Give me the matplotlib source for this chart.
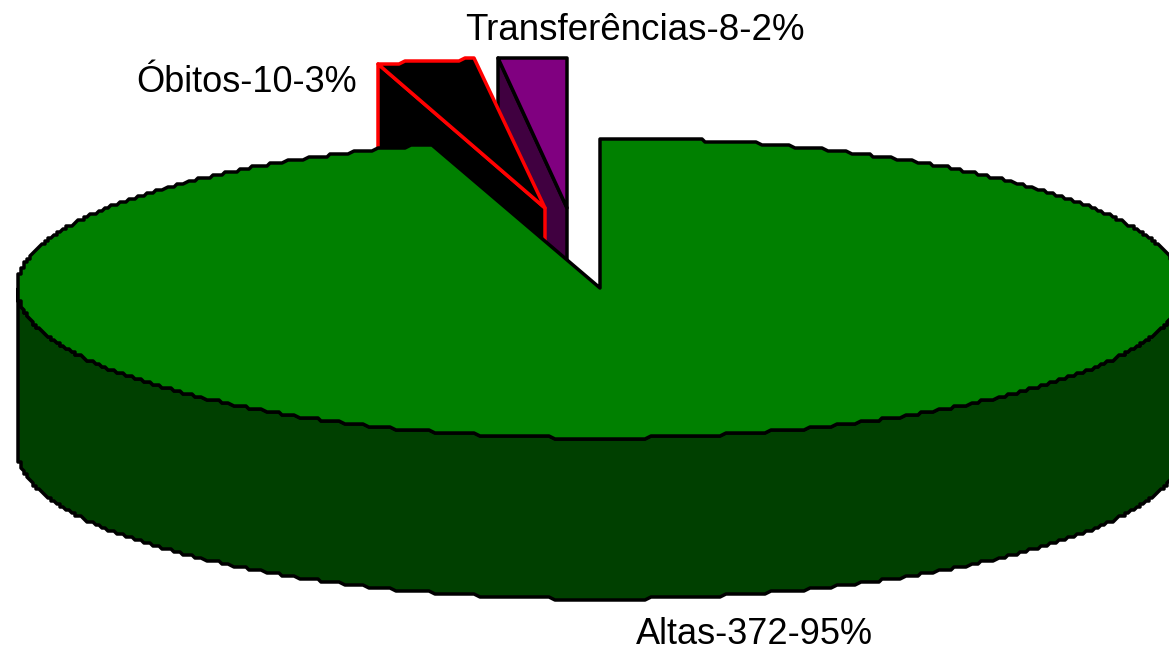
"""3D exploded pie: patient outcomes."""
import matplotlib
matplotlib.use('Agg')
import matplotlib.pyplot as plt
import numpy as np

categories = ['Altas', 'Óbitos', 'Transferências']
values = [372, 10, 8]
percents = [95, 3, 2]

TOP_COLORS = ['#008000', '#000000', '#800080']
WALL_COLORS = ['#004000', '#000000', '#400040']
EDGE_COLORS = ['#000000', '#ff0000', '#000000']

# pie geometry in figure pixels
RX, RY = 583, 150
DEPTH = 161
CENTERS = [(600, 288), (545, 208), (567, 208)]
STEP = 3
GRID = 0.5
LW = 2.5

plt.rcParams['font.family'] = ['Liberation Sans', 'DejaVu Sans']

fig = plt.figure(figsize=(11.69, 6.5), dpi=100, facecolor='white')
ax = fig.add_axes([0, 0, 1, 1])
ax.set_xlim(0, 1169)
ax.set_ylim(650, 0)
ax.axis('off')


def rim(center, a0, a1):
    # clockwise rim from a0 down to a1, snapped to a coarse grid for the raster wobble
    inner = np.arange(np.floor(a0 / GRID), np.ceil(a1 / GRID) - 1, -1) * GRID
    inner = inner[(inner < a0) & (inner > a1)]
    t = np.radians(np.r_[a0, inner, a1])
    x = center[0] + RX * np.cos(t)
    y = center[1] - RY * np.sin(t)
    return np.round(x / STEP) * STEP, np.round((y - 1) / STEP) * STEP + 1


# slices run clockwise from 12 o'clock
sweep = np.array(values) / sum(values) * 360
starts = 90 - np.concatenate([[0], np.cumsum(sweep)[:-1]])
ends = starts - sweep

# the old 3D projection squeezes the small slices a little near 12 o'clock
SHIFT = 0.5
slice_angles = {1: (starts[1] + 360, ends[1] + 360 - SHIFT),
                2: (starts[2] + 360 - SHIFT, ends[2] + 360)}

# small exploded slices first, the big one covers their lower part
for i in [2, 1]:
    c = CENTERS[i]
    a0, a1 = slice_angles[i]
    x, y = rim(c, a0, a1)
    # cut wall below the left edge of the slice
    ax.fill([c[0], c[0], x[0], x[0]], [c[1], c[1] + DEPTH, y[0] + DEPTH, y[0]],
            facecolor=WALL_COLORS[i], edgecolor=EDGE_COLORS[i], lw=LW,
            joinstyle='round', zorder=5 - i)
    ax.fill(np.r_[c[0], x], np.r_[c[1], y], facecolor=TOP_COLORS[i],
            edgecolor=EDGE_COLORS[i], lw=LW, joinstyle='round', zorder=5 - i)

# big slice: front wall then top
c = CENTERS[0]
x, y = rim(c, 360, 180)
ax.fill(np.r_[x, x[::-1]], np.r_[y, y[::-1] + DEPTH], facecolor=WALL_COLORS[0],
        edgecolor=EDGE_COLORS[0], lw=LW, joinstyle='round', zorder=6)
x, y = rim(c, starts[0], ends[0])
ax.fill(np.r_[c[0], x], np.r_[c[1], y], facecolor=TOP_COLORS[0],
        edgecolor=EDGE_COLORS[0], lw=LW, joinstyle='round', zorder=7)

labels = [f'{n}-{v}-{p}%' for n, v, p in zip(categories, values, percents)]
ax.text(754, 634, labels[0], fontsize=26, ha='center', va='center', color='black')
ax.text(247, 82, labels[1], fontsize=26, ha='center', va='center', color='black')
ax.text(635, 30, labels[2], fontsize=26.5, ha='center', va='center', color='black')

plt.savefig('out.png', dpi=100)
plt.close()
